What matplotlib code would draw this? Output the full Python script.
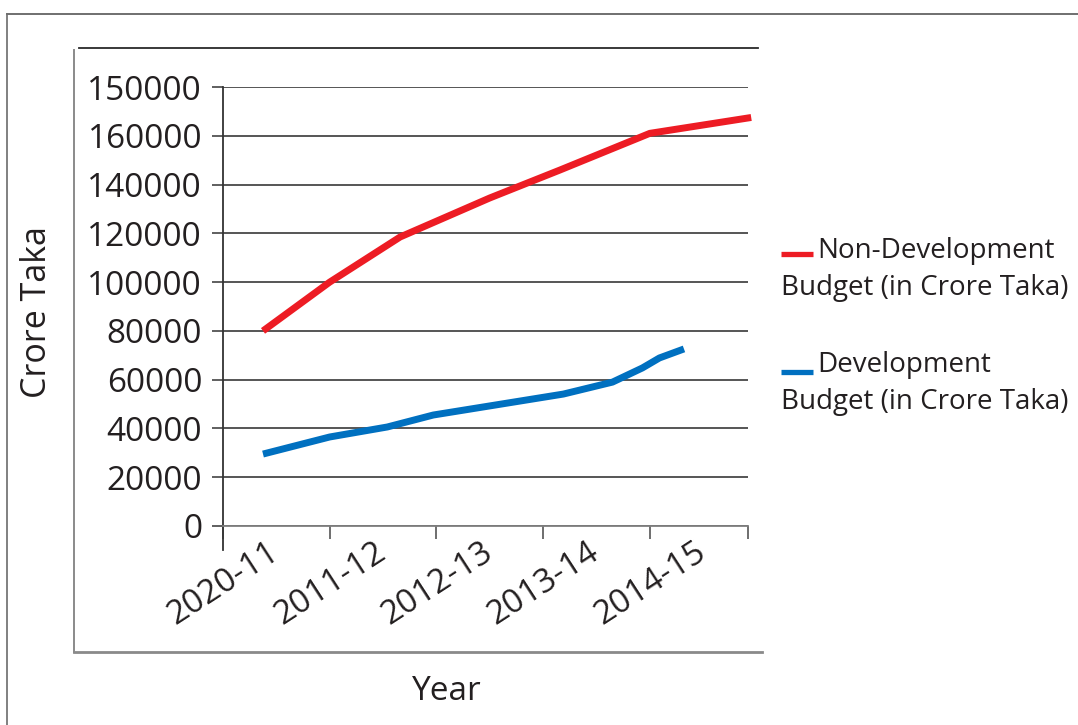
import matplotlib
matplotlib.use("Agg")
import matplotlib.pyplot as plt
from matplotlib.lines import Line2D

# ---- data -------------------------------------------------------------
years = ["2020-11", "2011-12", "2012-13", "2013-14", "2014-15"]

y_ticks = [0, 20000, 40000, 60000, 80000, 100000, 120000, 140000, 160000, 180000]
y_tick_labels = ["0", "20000", "40000", "60000", "80000", "100000",
                 "120000", "140000", "160000", "150000"]

nondev_name = "Non-Development Budget (in Crore Taka)"
nondev_pos = [0.375, 1.0, 1.66, 2.5, 3.16, 4.0, 4.95]
nondev_val = [80000, 100000, 118500, 134500, 146000, 161000, 167500]

dev_name = "Development Budget (in Crore Taka)"
dev_pos = [0.375, 1.0, 1.54, 1.97, 3.19, 3.65, 3.93, 4.09, 4.32]
dev_val = [29500, 36500, 40600, 45500, 54100, 59000, 64800, 68900, 72600]

RED = "#ED1C24"
BLUE = "#0070C0"
TEXT = "#231F20"

# ---- figure -----------------------------------------------------------
W, H = 1078, 725
plt.rcParams["font.family"] = ["Open Sans", "DejaVu Sans"]

fig = plt.figure(figsize=(W / 100, H / 100), dpi=100)


def fx(px):
    return px / W


def fy(py):
    return 1 - py / H


ax = fig.add_axes([fx(223), fy(526), (748 - 223) / W, (526 - 87) / H])
ax.set_xlim(0, 4.92)
ax.set_ylim(0, 180000)

ax.plot(nondev_pos, nondev_val, color=RED, lw=5, solid_capstyle="butt",
        solid_joinstyle="round", clip_on=False, zorder=3)
ax.plot(dev_pos, dev_val, color=BLUE, lw=5, solid_capstyle="butt",
        solid_joinstyle="round", clip_on=False, zorder=3)

# y axis
ax.set_yticks(y_ticks)
ax.set_yticklabels(y_tick_labels, fontsize=24, color=TEXT)
ax.tick_params(axis="y", length=8, width=1.2, color="#444444", pad=7)
ax.grid(axis="y", color="#555555", lw=1.4)
ax.set_axisbelow(True)

# x axis: boundary ticks, category labels centred between them
ax.set_xticks([0, 1, 2, 3, 4, 4.92])
ax.set_xticklabels([])
ax.set_xticks([i + 0.5 for i in range(len(years))], minor=True)
ax.set_xticklabels(years, minor=True, fontsize=24, color=TEXT, rotation=33,
                   ha="right", va="center", rotation_mode="anchor")
ax.tick_params(axis="x", which="major", length=9, width=1.2, color="#555555")
ax.tick_params(axis="x", which="minor", length=0, pad=17)

for side in ("top", "right"):
    ax.spines[side].set_visible(False)
ax.spines["left"].set_color("#333333")
ax.spines["left"].set_linewidth(1.3)
ax.spines["left"].set_bounds(-24 / 439 * 180000, 180000)
ax.spines["bottom"].set_color("#7f7f7f")
ax.spines["bottom"].set_linewidth(1.3)

ax.set_ylabel("Crore Taka", fontsize=24.5, color=TEXT)
ax.yaxis.set_label_coords((54 - 223) / 525, (526 - 312) / 439)

fig.text(fx(447), fy(700), "Year", fontsize=24, color=TEXT,
         ha="center", va="baseline")

# ---- legend (wrapped entries) ----------------------------------------
def legend_entry(color, name, y_line, y_first, y_second):
    first, second = name.split(" ", 1)
    fig.add_artist(Line2D([fx(781), fx(813)], [fy(y_line), fy(y_line)],
                          transform=fig.transFigure, color=color, lw=3.8,
                          solid_capstyle="butt"))
    fig.text(fx(817), fy(y_first), first, fontsize=20, color=TEXT,
             ha="left", va="baseline")
    fig.text(fx(781), fy(y_second), second, fontsize=20, color=TEXT,
             ha="left", va="baseline")


legend_entry(RED, nondev_name, 254, 258, 295)
legend_entry(BLUE, dev_name, 372, 372, 409)

# ---- chart frames -----------------------------------------------------
def frame_line(xs, ys, color, lw):
    fig.add_artist(Line2D([fx(x) for x in xs], [fy(y) for y in ys],
                          transform=fig.transFigure, color=color, lw=lw))


frame_line([7, 7], [14, 725], "#808080", 1.4)
frame_line([7, 1078], [14, 14], "#6f6f6f", 1.4)
frame_line([74, 74], [50, 652], "#8a8a8a", 1.4)
frame_line([79, 758], [48, 48], "#2a2a2a", 1.3)
frame_line([74, 762], [652, 652], "#8a8a8a", 2.0)

fig.savefig("out.png", dpi=100)
